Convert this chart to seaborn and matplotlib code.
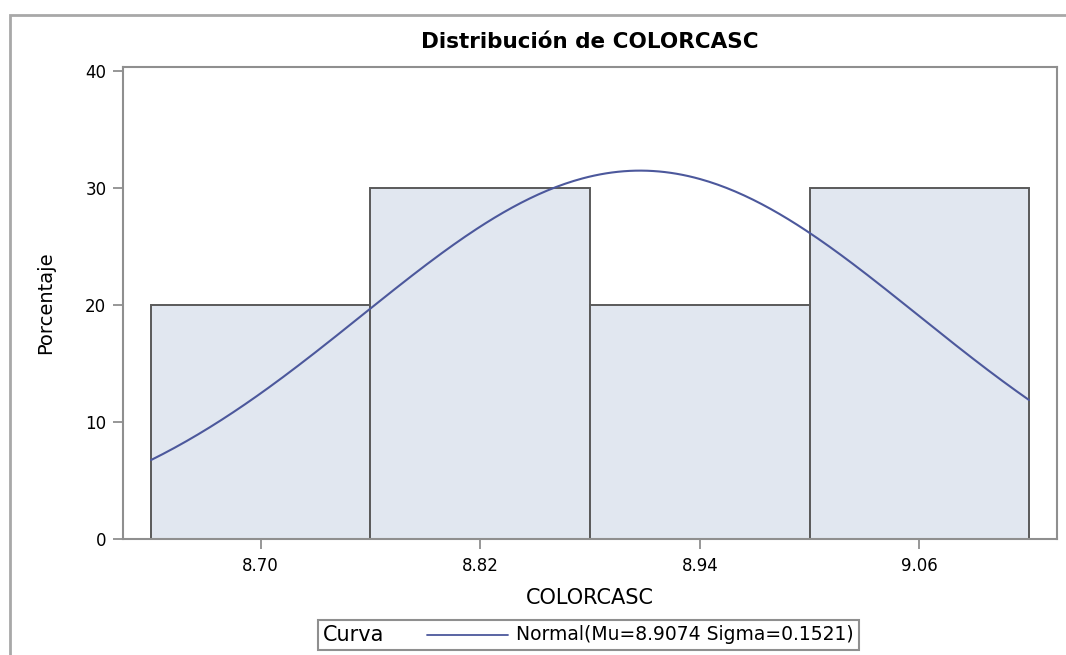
import numpy as np
import pandas as pd
import matplotlib.pyplot as plt
import seaborn as sns
from matplotlib.lines import Line2D
from matplotlib.patches import Rectangle
from matplotlib.offsetbox import AnchoredOffsetbox, HPacker, TextArea, DrawingArea

# Data
bin_centers = [8.70, 8.82, 8.94, 9.06]
percentages = [20, 30, 20, 30]
bin_edges = [8.64, 8.76, 8.88, 9.00, 9.12]
mu = 8.9074
sigma = 0.1521
xticks = [8.70, 8.82, 8.94, 9.06]
yticks = [0, 10, 20, 30, 40]

df = pd.DataFrame({'COLORCASC': bin_centers, 'pct': percentages})

sns.set_style('white')
plt.rcParams['font.family'] = ['DejaVu Sans']
plt.rcParams['text.color'] = 'black'
plt.rcParams['axes.labelcolor'] = 'black'

fill_color = '#e1e7f0'
edge_color = '#5a5a5a'
curve_color = '#4c589c'
axis_color = '#8f8f8f'

fig = plt.figure(figsize=(10.66, 6.55), dpi=100)
ax = fig.add_axes([123 / 1066, 1 - 538.5 / 655, (1057 - 123) / 1066, (538.5 - 67) / 655])

sns.histplot(data=df, x='COLORCASC', weights='pct', bins=bin_edges, stat='count',
             color=fill_color, edgecolor=edge_color, linewidth=1.4, alpha=1, ax=ax)

# normal curve from the fitted parameters, scaled to percent per bin
binw = bin_edges[1] - bin_edges[0]
xs = np.linspace(bin_edges[0], bin_edges[-1], 300)
ys = 100 * binw * np.exp(-0.5 * ((xs - mu) / sigma) ** 2) / (sigma * np.sqrt(2 * np.pi))
sns.lineplot(x=xs, y=ys, color=curve_color, linewidth=1.5, ax=ax)

ax.set_xlim(8.6247, 9.1353)
ax.set_ylim(0, 40.34)
ax.set_xticks(xticks)
ax.set_xticklabels([f'{t:.2f}' for t in xticks])
ax.set_yticks(yticks)

for s in ax.spines.values():
    s.set_color(axis_color)
    s.set_linewidth(1.5)
ax.tick_params(axis='both', bottom=True, left=True, direction='out', length=7, width=1.3,
               color=axis_color, labelsize=12, labelcolor='black', pad=5)
ax.tick_params(axis='x', pad=6)

ax.set_title('Distribución de COLORCASC', fontsize=15.5, fontweight='bold', pad=14, color='black')
ax.set_xlabel('COLORCASC', fontsize=15, labelpad=10)
ax.set_ylabel('Porcentaje', fontsize=14, labelpad=22)

# legend strip at the bottom
da = DrawingArea(58, 10, 0, 0)
da.add_artist(Line2D([0, 58], [5, 5], color=curve_color, linewidth=1.3))
inner = HPacker(children=[da, TextArea('Normal(Mu=8.9074 Sigma=0.1521)',
                                       textprops=dict(fontsize=13.5, color='black'))],
                sep=6, align='center', pad=0)
box = HPacker(children=[TextArea('Curva', textprops=dict(fontsize=15, color='black')), inner],
              sep=31, align='center', pad=0)
anch = AnchoredOffsetbox(loc='center', child=box, pad=0.35, borderpad=0, frameon=True,
                         bbox_to_anchor=(588.5 / 1066, 1 - 635 / 655),
                         bbox_transform=fig.transFigure)
anch.patch.set_edgecolor(axis_color)
anch.patch.set_linewidth(1.5)
anch.patch.set_boxstyle('square', pad=0)
fig.add_artist(anch)

# outer graph frame (right and bottom edges fall outside the picture)
fig.add_artist(Rectangle((10 / 1066, -0.2), 1.2, 1.2 - 14.5 / 655, transform=fig.transFigure,
                         fill=False, edgecolor='#a8a8a8', linewidth=2, clip_on=False))

fig.savefig('out.png', dpi=100)
